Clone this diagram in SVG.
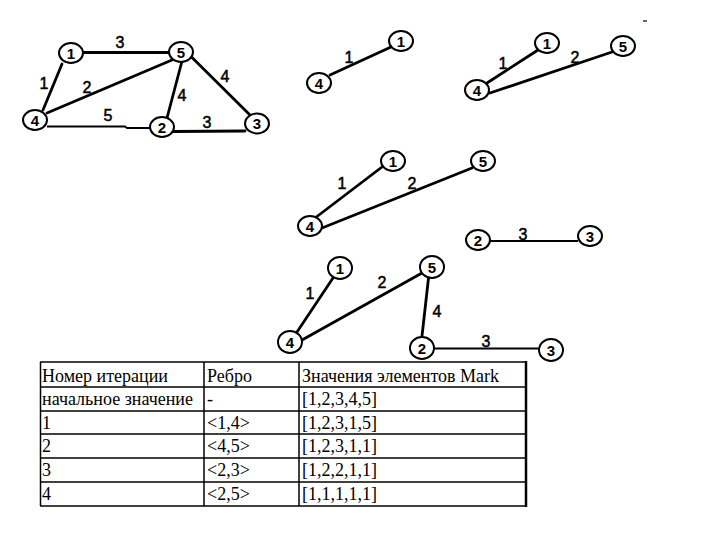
<svg xmlns="http://www.w3.org/2000/svg" width="720" height="540" viewBox="0 0 720 540">
<style>
.bg{fill:#fff}
.e{stroke:#000;stroke-width:2.8;fill:none;stroke-linecap:round}
.t{stroke:#000;stroke-width:1.9;fill:none}
.n ellipse{fill:#fff;stroke:#000;stroke-width:2}
.n text{font-family:"Liberation Sans",Arial,sans-serif;font-size:15px;font-weight:bold;text-anchor:middle;dominant-baseline:central;fill:#000}
.l{font-family:"Liberation Sans",Arial,sans-serif;font-size:16px;text-anchor:middle;dominant-baseline:central;fill:#000;stroke:#000;stroke-width:0.5}
.g{stroke:#000;stroke-width:1.5}
.c{font-family:"Liberation Serif","Times New Roman",serif;font-size:18px;fill:#000}
</style>
<rect class="bg" x="0" y="0" width="720" height="540"/>

<g id="connectors">
  <g id="edgesA">
    <line class="e" x1="83" y1="52.5" x2="170" y2="52.5"/>
    <line class="e" x1="62" y1="64" x2="43" y2="110"/>
    <line class="e" x1="47" y1="113" x2="172" y2="60"/>
    <polyline class="t" points="47,126.5 125,126.5 127,128 150,128"/>
    <line class="e" x1="181.5" y1="63" x2="167" y2="118"/>
    <line class="e" x1="191.5" y1="57" x2="250" y2="115"/>
    <line class="e" x1="173" y1="131.5" x2="245" y2="131"/>
  </g>
  <g id="edgesB">
    <line class="e" x1="391" y1="47" x2="330" y2="75"/>
  </g>
  <g id="edgesC">
    <line class="e" x1="538" y1="50" x2="487" y2="83"/>
    <line class="e" x1="490" y1="93" x2="612" y2="52"/>
  </g>
  <g id="edgesD">
    <line class="e" x1="382" y1="167" x2="315" y2="218"/>
    <line class="e" x1="322" y1="228" x2="472" y2="168"/>
    <line class="t" x1="490" y1="241" x2="578" y2="241"/>
  </g>
  <g id="edgesE">
    <line class="e" x1="333" y1="278" x2="297" y2="332"/>
    <line class="e" x1="302" y1="340" x2="422" y2="273"/>
    <line class="e" x1="428.5" y1="278" x2="422" y2="336"/>
    <line class="t" x1="433" y1="348.5" x2="538" y2="348.5"/>
  </g>
</g>

<g id="labels">
  <text class="l" x="120" y="42">3</text>
  <text class="l" x="44" y="83">1</text>
  <text class="l" x="87" y="87">2</text>
  <text class="l" x="182" y="95">4</text>
  <text class="l" x="225" y="76">4</text>
  <text class="l" x="108" y="115">5</text>
  <text class="l" x="207" y="122">3</text>

  <text class="l" x="349" y="57">1</text>

  <text class="l" x="503" y="63">1</text>
  <text class="l" x="575" y="57">2</text>

  <text class="l" x="342" y="183">1</text>
  <text class="l" x="412" y="183">2</text>
  <text class="l" x="523" y="234">3</text>

  <text class="l" x="310" y="293">1</text>
  <text class="l" x="382" y="282">2</text>
  <text class="l" x="437" y="311">4</text>
  <text class="l" x="486" y="341">3</text>
</g>

<g id="A1" class="n"><ellipse cx="71" cy="53" rx="12" ry="10"/><text x="71" y="53">1</text></g>
<g id="A5" class="n"><ellipse cx="181" cy="52" rx="12" ry="10"/><text x="181" y="52">5</text></g>
<g id="A4" class="n"><ellipse cx="35" cy="120" rx="12" ry="10"/><text x="35" y="120">4</text></g>
<g id="A2" class="n"><ellipse cx="162" cy="127" rx="12" ry="10"/><text x="162" y="127">2</text></g>
<g id="A3" class="n"><ellipse cx="257" cy="123.5" rx="12" ry="10"/><text x="257" y="123.5">3</text></g>

<g id="B1" class="n"><ellipse cx="401" cy="41" rx="12" ry="10"/><text x="401" y="41">1</text></g>
<g id="B4" class="n"><ellipse cx="319" cy="83" rx="12" ry="10"/><text x="319" y="83">4</text></g>

<g id="C1" class="n"><ellipse cx="547" cy="43" rx="12" ry="10"/><text x="547" y="43">1</text></g>
<g id="C5" class="n"><ellipse cx="623" cy="46" rx="12" ry="10"/><text x="623" y="46">5</text></g>
<g id="C4" class="n"><ellipse cx="477" cy="90" rx="12" ry="10"/><text x="477" y="90">4</text></g>

<g id="D1" class="n"><ellipse cx="393" cy="161" rx="12" ry="10"/><text x="393" y="161">1</text></g>
<g id="D5" class="n"><ellipse cx="483" cy="161" rx="12" ry="10"/><text x="483" y="161">5</text></g>
<g id="D4" class="n"><ellipse cx="310" cy="226" rx="12" ry="10"/><text x="310" y="226">4</text></g>
<g id="D2" class="n"><ellipse cx="478" cy="240" rx="12" ry="10"/><text x="478" y="240">2</text></g>
<g id="D3" class="n"><ellipse cx="590" cy="236" rx="12" ry="10"/><text x="590" y="236">3</text></g>

<g id="E1" class="n"><ellipse cx="340" cy="268" rx="12" ry="11"/><text x="340" y="268">1</text></g>
<g id="E5" class="n"><ellipse cx="432" cy="267" rx="12" ry="11"/><text x="432" y="267">5</text></g>
<g id="E4" class="n"><ellipse cx="290" cy="342" rx="12" ry="11"/><text x="290" y="342">4</text></g>
<g id="E2" class="n"><ellipse cx="422" cy="348" rx="12" ry="11"/><text x="422" y="348">2</text></g>
<g id="E3" class="n"><ellipse cx="551" cy="350" rx="12" ry="11"/><text x="551" y="350">3</text></g>

<line x1="643" y1="21" x2="647" y2="21" stroke="#000" stroke-width="1.2"/>

<g id="table">
  <rect x="40" y="362" width="486" height="144" fill="#fff" stroke="none"/>
  <line class="g" x1="40" y1="362" x2="526" y2="362"/>
  <line class="g" x1="40" y1="387" x2="526" y2="387"/>
  <line class="g" x1="40" y1="411" x2="526" y2="411"/>
  <line class="g" x1="40" y1="434" x2="526" y2="434"/>
  <line class="g" x1="40" y1="458" x2="526" y2="458"/>
  <line class="g" x1="40" y1="482" x2="526" y2="482"/>
  <line class="g" x1="40" y1="506" x2="526" y2="506"/>
  <line class="g" x1="40.5" y1="362" x2="40.5" y2="506"/>
  <line class="g" x1="204" y1="362" x2="204" y2="506"/>
  <line class="g" x1="299" y1="362" x2="299" y2="506"/>
  <line x1="526" y1="361" x2="526" y2="507" stroke="#000" stroke-width="2.5"/>

  <text class="c" x="42" y="381.5">Номер итерации</text>
  <text class="c" x="207" y="381.5">Ребро</text>
  <text class="c" x="302" y="381.5">Значения элементов Mark</text>

  <text class="c" x="42" y="405">начальное значение</text>
  <text class="c" x="207" y="405">-</text>
  <text class="c" x="302" y="405">[1,2,3,4,5]</text>

  <text class="c" x="42" y="429">1</text>
  <text class="c" x="207" y="429">&lt;1,4&gt;</text>
  <text class="c" x="302" y="429">[1,2,3,1,5]</text>

  <text class="c" x="42" y="452">2</text>
  <text class="c" x="207" y="452">&lt;4,5&gt;</text>
  <text class="c" x="302" y="452">[1,2,3,1,1]</text>

  <text class="c" x="42" y="476">3</text>
  <text class="c" x="207" y="476">&lt;2,3&gt;</text>
  <text class="c" x="302" y="476">[1,2,2,1,1]</text>

  <text class="c" x="42" y="500">4</text>
  <text class="c" x="207" y="500">&lt;2,5&gt;</text>
  <text class="c" x="302" y="500">[1,1,1,1,1]</text>
</g>
</svg>
